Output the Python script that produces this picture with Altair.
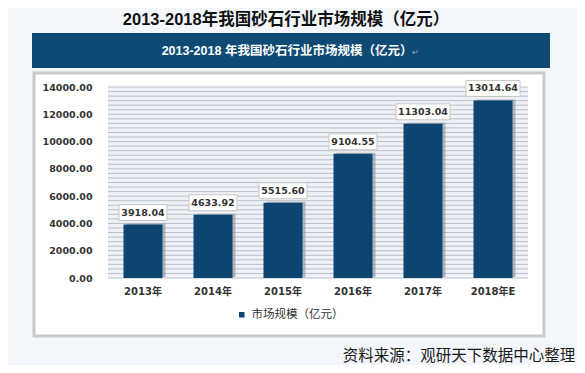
import altair as alt
import pandas as pd

# ---- data ----
years = ["2013年", "2014年", "2015年", "2016年", "2017年", "2018年E"]
values = [3918.04, 4633.92, 5515.60, 9104.55, 11303.04, 13014.64]
value_labels = ["3918.04", "4633.92", "5515.60", "9104.55", "11303.04", "13014.64"]
y_ticks = [0, 2000, 4000, 6000, 8000, 10000, 12000, 14000]
series_name = "市场规模（亿元）"
page_title = "2013-2018年我国砂石行业市场规模（亿元）"
banner_title = "2013-2018 年我国砂石行业市场规模（亿元）"
source_note = "资料来源：观研天下数据中心整理"

df = pd.DataFrame({"year": years, "value": values, "label": value_labels, "series": series_name})
df["n"] = df["label"].str.len()

grid_df = pd.DataFrame({"g": [i * 2000 / 6 for i in range(0, 43)]})

W, H = 420, 191
NAVY = "#0c4571"
CJK = "Noto Sans CJK SC"
LAT = "DejaVu Sans"

x_enc = alt.X("year:N", sort=years, title=None,
              scale=alt.Scale(paddingInner=0.443, paddingOuter=0.2215),
              axis=alt.Axis(labelAngle=0, labelFont=f"{LAT}, {CJK}", labelFontSize=10,
                            labelFontWeight="bold", labelColor="#333333", labelPadding=8,
                            ticks=False, domain=False, grid=False, zindex=2))
y_scale = alt.Scale(domain=[0, 14000], nice=False, zero=True)
y_axis = alt.Axis(values=y_ticks, format=".2f", labelFont=LAT, labelFontSize=9.5,
                  labelFontWeight="bold", labelColor="#333333", labelPadding=16,
                  labelOverlap=False, labelBound=False, labelFlush=False,
                  ticks=False, domain=False, grid=False, zindex=2)
y_enc = alt.Y("value:Q", scale=y_scale, title=None, axis=y_axis)


def one(text):
    return alt.Chart(pd.DataFrame({"t": [text]}))


panel = one("").mark_rect(fill="white", stroke="#c9c9c9", strokeWidth=3).encode(
    x=alt.value(-74), x2=alt.value(436), y=alt.value(-14), y2=alt.value(249))
banner = one("").mark_rect(fill="#0e4a74").encode(
    x=alt.value(-76), x2=alt.value(442), y=alt.value(-54), y2=alt.value(-19))
title_txt = one(page_title).mark_text(font=f"Liberation Sans, {CJK}", fontSize=16.5,
                                      fontWeight="bold", color="#111111").encode(
    text="t:N", x=alt.value(178), y=alt.value(-67))
banner_txt = one(banner_title).mark_text(font=f"Liberation Sans, {CJK}", fontSize=12.5,
                                         fontWeight="bold", color="white").encode(
    text="t:N", x=alt.value(179), y=alt.value(-36))
para_mark = one("↵").mark_text(fontSize=8, color="#8fa6bb").encode(
    text="t:N", x=alt.value(307), y=alt.value(-34))
plot_bg = one("").mark_rect(fill="#eef1f5").encode(
    x=alt.value(0), x2=alt.value(W), y=alt.value(0), y2=alt.value(H))
source_txt = one(source_note).mark_text(font=CJK, fontSize=15.5, color="#1a1a1a").encode(
    text="t:N", x=alt.value(351), y=alt.value(269))

grid = alt.Chart(grid_df).mark_rule(color="#b9c0ca", strokeWidth=1).encode(
    y=alt.Y("g:Q", scale=y_scale, title=None, axis=y_axis), x=alt.value(0), x2=alt.value(W))

base = alt.Chart(df)
shadow = base.mark_bar(color="#7d8792", opacity=0.55, xOffset=3, yOffset=-1).encode(
    x=x_enc, y=y_enc)
bars = base.mark_bar().encode(
    x=x_enc, y=y_enc,
    color=alt.Color("series:N", title=None,
                    scale=alt.Scale(range=[NAVY]),
                    legend=alt.Legend(orient="none", legendX=128, legendY=222,
                                      symbolType="square", symbolSize=30,
                                      labelFont=CJK, labelFontSize=11.5,
                                      labelColor="#333333", symbolStrokeWidth=0)))
box7 = base.transform_filter("datum.n == 7").mark_tick(
    size=48, thickness=16, fill="white", stroke="#c6c6c6", strokeWidth=1,
    opacity=1, yOffset=-12).encode(x=x_enc, y=y_enc)
box8 = base.transform_filter("datum.n == 8").mark_tick(
    size=54, thickness=16, fill="white", stroke="#c6c6c6", strokeWidth=1,
    opacity=1, yOffset=-12).encode(x=x_enc, y=y_enc)
labels = base.mark_text(font=LAT, fontSize=9.5, fontWeight="bold", color="#333333",
                        dy=-12).encode(x=x_enc, y=y_enc, text="label:N")

chart = alt.layer(
    panel, banner, title_txt, banner_txt, para_mark, plot_bg, grid,
    shadow, bars, box7, box8, labels, source_txt
).properties(
    width=W, height=H,
    autosize=alt.AutoSizeParams(type="none"),
    padding={"left": 100, "top": 79, "right": 49, "bottom": 87},
).configure(background="#f3f7fb").configure_view(stroke=None)

chart.save("out.html", embed_options={"renderer": "svg", "actions": False})
